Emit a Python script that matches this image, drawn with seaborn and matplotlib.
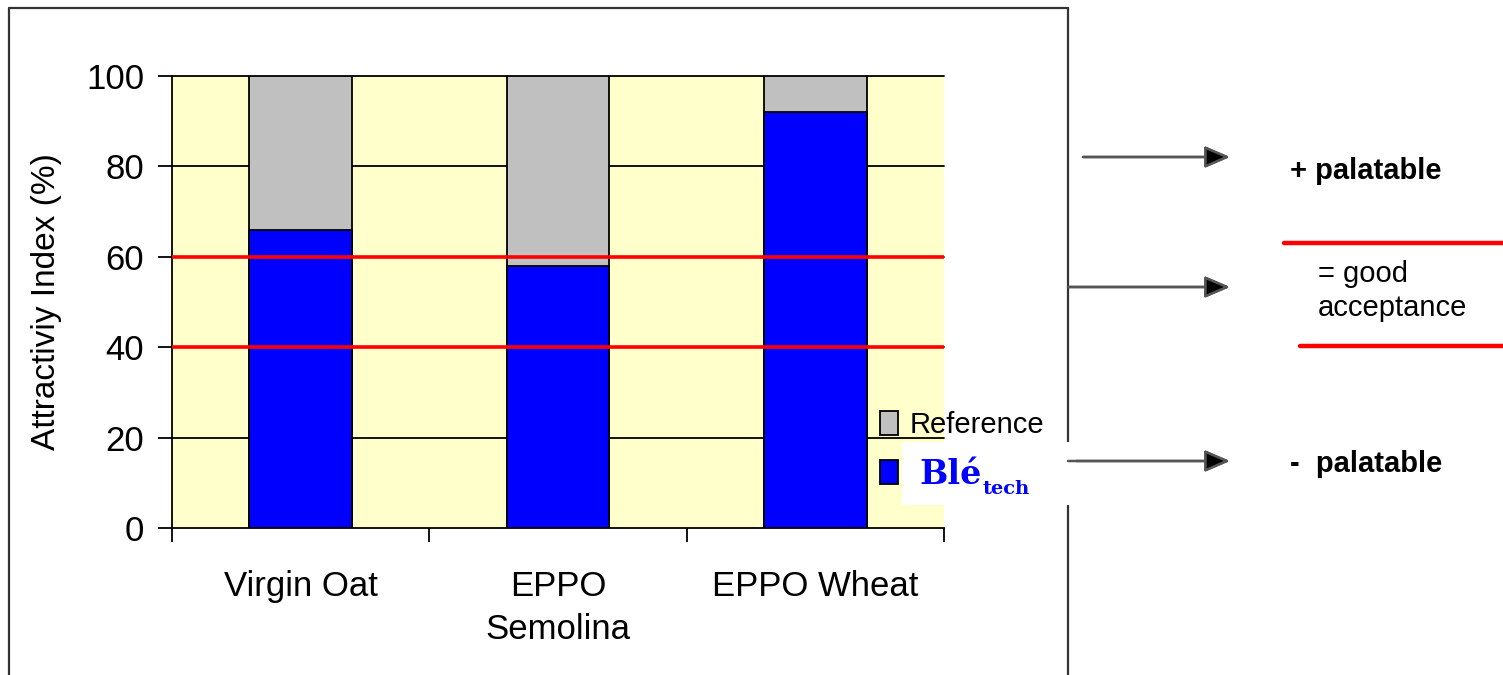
import matplotlib
matplotlib.use("Agg")
import matplotlib.pyplot as plt
import seaborn as sns
from matplotlib.patches import Patch, Rectangle
from matplotlib.lines import Line2D

W, H = 1503, 675

categories = ["Virgin Oat", "EPPO\nSemolina", "EPPO Wheat"]
bletech = [66, 58, 92]
reference = [100, 100, 100]
thresholds = [40, 60]
y_ticks = [0, 20, 40, 60, 80, 100]

YELLOW = "#FFFFCC"
GRAY = "#C0C0C0"
BLUE = "#0000FF"
RED = "#FF0000"


def fx(x):
    return x / W


def fy(y):
    return 1 - y / H


sns.set_theme(style="white")
plt.rcParams['font.family'] = ['Liberation Sans', 'DejaVu Sans']
plt.rcParams['text.color'] = 'black'
plt.rcParams['axes.labelcolor'] = 'black'
plt.rcParams['xtick.color'] = 'black'
plt.rcParams['ytick.color'] = 'black'

fig = plt.figure(figsize=(W / 100, H / 100), dpi=100)
ax = fig.add_axes([fx(172), fy(528), (944 - 172) / W, (528 - 76) / H])
ax.set_facecolor(YELLOW)

for t in y_ticks[1:]:
    ax.axhline(t, color="black", lw=1.3, zorder=0.5, clip_on=False)

sns.barplot(x=categories, y=reference, color=GRAY, edgecolor="black",
            linewidth=1.3, width=0.4, saturation=1, ax=ax, zorder=1)
sns.barplot(x=categories, y=bletech, color=BLUE, edgecolor="black",
            linewidth=1.3, width=0.4, saturation=1, ax=ax, zorder=1.5)

for t in thresholds:
    ax.axhline(t, color=RED, lw=2.6, zorder=3)

ax.set_ylim(0, 100)
ax.set_xlim(-0.5, 2.5)
ax.set_yticks(y_ticks)
ax.tick_params(axis="y", direction="out", length=10, width=1.3, color="black",
               labelsize=25, pad=10, left=True, labelcolor="black")
ax.set_xticks([-0.5, 0.5, 1.5, 2.5])
ax.set_xticklabels([])
ax.tick_params(axis="x", which="major", direction="out", length=10, width=1.3,
               color="black", bottom=True)
ax.set_xticks([0, 1, 2], minor=True)
ax.set_xticklabels(categories, minor=True, fontsize=25, linespacing=1.4)
ax.tick_params(axis="x", which="minor", length=0, pad=30, labelcolor="black")
ax.set_xlabel("")
ax.set_ylabel("Attractiviy Index (%)", fontsize=24, color="black")
ax.yaxis.set_label_coords(-0.143, 0.5)

for s in ["top", "right"]:
    ax.spines[s].set_visible(False)
for s in ["left", "bottom"]:
    ax.spines[s].set_color("black")
    ax.spines[s].set_linewidth(1.3)

# legend
handles = [Patch(facecolor=GRAY, edgecolor="black", lw=1.3),
           Patch(facecolor=BLUE, edgecolor="black", lw=1.3)]
fig.legend(handles, ["Reference", " "], loc="upper left",
           bbox_to_anchor=(fx(880), fy(411)), frameon=False, fontsize=21,
           handlelength=0.6, handleheight=0.9, handletextpad=0.4,
           labelspacing=0.72, borderpad=0, borderaxespad=0, labelcolor="black")

# outer frame
frame_kw = dict(color="#333333", lw=1.6, transform=fig.transFigure)
fig.add_artist(Line2D([fx(9), fx(9)], [fy(8), fy(675)], **frame_kw))
fig.add_artist(Line2D([fx(9), fx(1068)], [fy(8), fy(8)], **frame_kw))
fig.add_artist(Line2D([fx(1068), fx(1068)], [fy(8), fy(675)], **frame_kw))

# white label box
fig.add_artist(Rectangle((fx(902), fy(505)), fx(1076) - fx(902), (505 - 442) / H,
                         transform=fig.transFigure, facecolor="white",
                         edgecolor="none", zorder=5))
fig.text(fx(919), fy(484), "Blé", color=BLUE, fontsize=24, fontweight="bold",
         family=["DejaVu Serif"], va="baseline", zorder=6)
fig.text(fx(983), fy(494), "tech", color=BLUE, fontsize=14, fontweight="bold",
         family=["DejaVu Serif"], va="baseline", zorder=6)

# arrows and notes on the right
arrow_kw = dict(arrowstyle="-|>,head_length=0.7,head_width=0.3", lw=1.8,
                ec="#555555", fc="black", mutation_scale=22,
                shrinkA=0, shrinkB=0)
for x0, y0 in [(1083, 157), (1068, 287), (1068, 461)]:
    fig.add_artist(plt.annotate("", xy=(fx(1230), fy(y0)), xytext=(fx(x0), fy(y0)),
                                xycoords="figure fraction", textcoords="figure fraction",
                                arrowprops=arrow_kw, zorder=7))

fig.text(fx(1290), fy(171), "+ palatable", fontsize=21, fontweight="bold",
         va="center", ha="left")
fig.text(fx(1318), fy(291), "= good\nacceptance", fontsize=21,
         va="center", ha="left", linespacing=1.25)
fig.text(fx(1290), fy(464), "-  palatable", fontsize=21, fontweight="bold",
         va="center", ha="left")

red_kw = dict(color=RED, lw=3.2, transform=fig.transFigure)
fig.add_artist(Line2D([fx(1284), fx(1503)], [fy(243), fy(243)], **red_kw))
fig.add_artist(Line2D([fx(1300), fx(1503)], [fy(346), fy(346)], **red_kw))

fig.savefig("out.png", dpi=100, facecolor="white")
